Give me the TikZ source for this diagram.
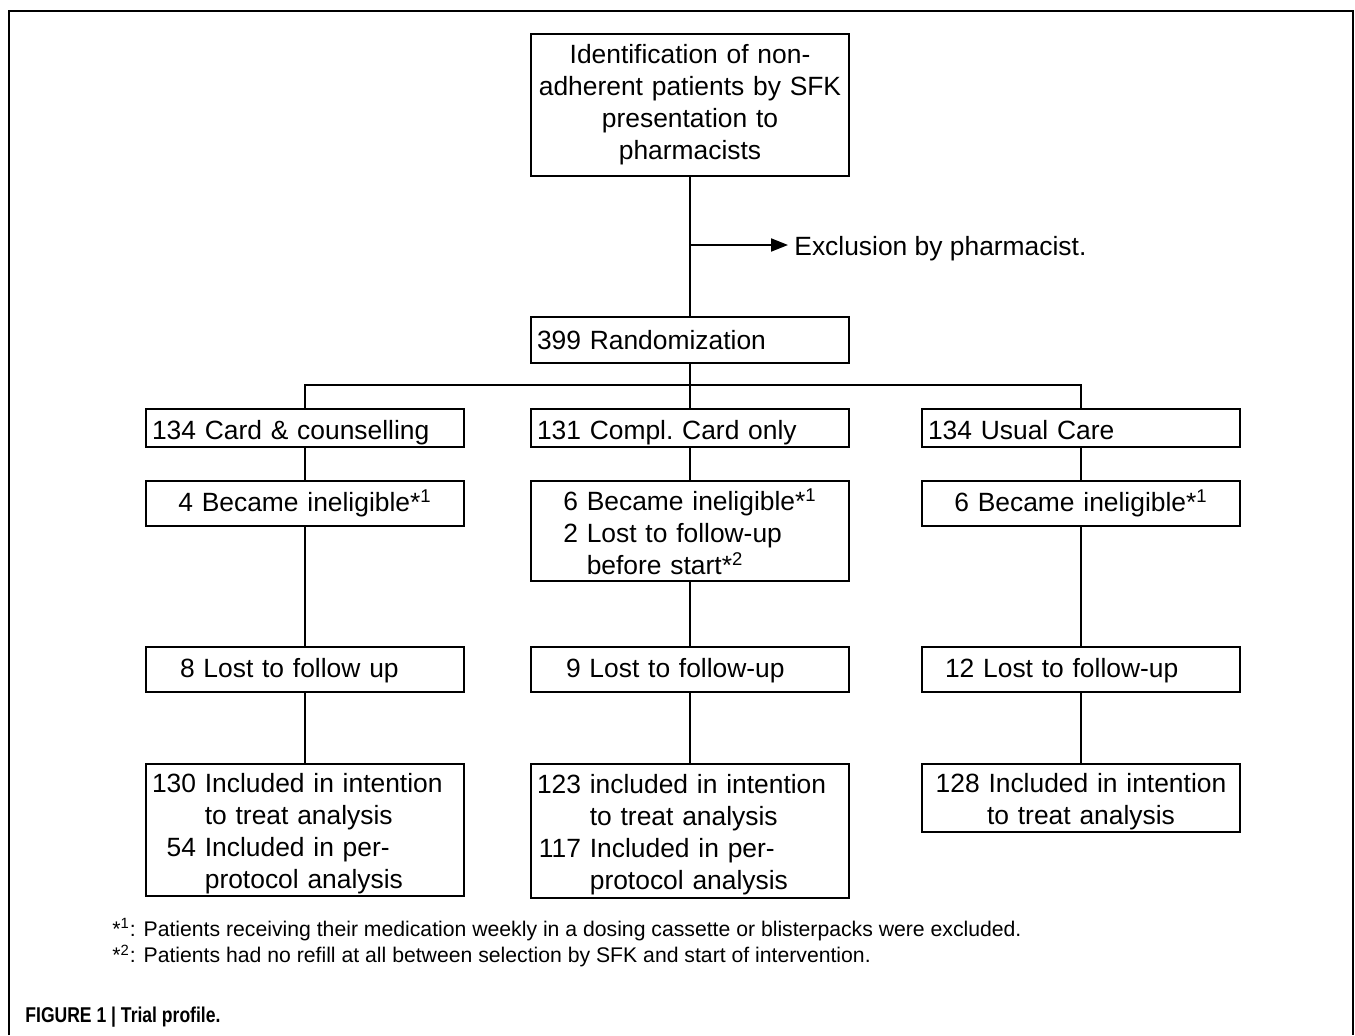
\documentclass[tikz,border=0pt]{standalone}
\usepackage{fontspec}
\setmainfont{Liberation Sans}
\usetikzlibrary{arrows.meta, positioning, calc}

\begin{document}
\begin{tikzpicture}[x=0.5pt,y=-0.5pt,
  boite/.style={draw, line width=1pt, anchor=north, minimum width=159pt, text width=153pt, inner xsep=3pt, inner ysep=1pt, align=left, font=\fontsize{13.2}{16}\selectfont},
  boitec/.style={boite, align=center},
  trait/.style={line width=1pt},
  note/.style={anchor=west, inner sep=0pt, font=\fontsize{10.6}{13}\selectfont}]
\useasboundingbox (0,0) rectangle (1355,1035);
% Cadre
\draw[trait] (9,1035) -- (9,11) -- (1353,11) -- (1353,1035);
% Selection et randomisation
\node[boitec, minimum height=71pt] (ident) at (690,33) {Identification of non-\\adherent patients by SFK\\presentation to\\pharmacists};
\node[boite, minimum height=23pt, text height=15pt, text depth=6pt] (rando) at (690,316) {399 Randomization};
\coordinate (excl) at (690,245);
\node[anchor=base west, inner sep=0pt, font=\fontsize{13.2}{16}\selectfont] (exclu) at (794,255.5) {Exclusion by pharmacist.};
\draw[trait] (ident) -- (rando);
\draw[trait, -{Triangle[length=8.5pt,width=6.5pt]}, shorten >=3pt] (excl) -- (excl -| exclu.west);
% Groupes
\node[boite, minimum height=19pt, text height=14pt, text depth=3pt] (cartec) at (305,408) {134 Card \& counselling};
\node[boite, minimum height=19pt, text height=14pt, text depth=3pt] (carte) at (690,408) {131 Compl.\ Card only};
\node[boite, minimum height=19pt, text height=14pt, text depth=3pt] (usuel) at (1081,408) {134 Usual Care};
\coordinate (split) at (690,385);
\draw[trait] (cartec.north) |- (split) -| (usuel.north);
\draw[trait] (rando) -- (carte);
% Ineligibles
\node[boitec, minimum height=22.5pt, text height=14pt, text depth=6.5pt] (inel1) at (305,480) {4 Became ineligible*\textsuperscript{1}};
\node[boitec, minimum height=49.5pt] (inel2) at (690,480) {\raisebox{-2.5pt}[\height][\depth]{\begin{tabular}{@{}r@{ }l@{}}6&Became ineligible*\textsuperscript{1}\\2&Lost to follow-up\\&before start*\textsuperscript{2}\end{tabular}}};
\node[boitec, minimum height=22.5pt, text height=14pt, text depth=6.5pt] (inel3) at (1081,480) {6 Became ineligible*\textsuperscript{1}};
% Perdus de vue
\node[boite, minimum height=22.5pt, text height=14pt, text depth=6.5pt] (perdu1) at (305,646) {\hspace*{14pt}8 Lost to follow up};
\node[boite, minimum height=22.5pt, text height=14pt, text depth=6.5pt] (perdu2) at (690,646) {\hspace*{14.5pt}9 Lost to follow-up};
\node[boite, minimum height=22.5pt, text height=14pt, text depth=6.5pt] (perdu3) at (1081,646) {\hspace*{8.5pt}12 Lost to follow-up};
% Analyses
\node[boite, minimum height=66pt] (anal1) at (305,763) {\raisebox{-2.2pt}[\height][\depth]{\begin{tabular}{@{}r@{ }l@{}}130&Included in intention\\&to treat analysis\\54&Included in per-\\&protocol analysis\end{tabular}}};
\node[boite, minimum height=67pt] (anal2) at (690,763) {\raisebox{-2.2pt}[\height][\depth]{\begin{tabular}{@{}r@{ }l@{}}123&included in intention\\&to treat analysis\\117&Included in per-\\&protocol analysis\end{tabular}}};
\node[boitec, minimum height=33.5pt] (anal3) at (1081,763) {\raisebox{-2pt}[\height][\depth]{\begin{tabular}{@{}c@{}}128 Included in intention\\to treat analysis\end{tabular}}};
\draw[trait] (cartec) -- (inel1) -- (perdu1) -- (anal1);
\draw[trait] (carte) -- (inel2) -- (perdu2) -- (anal2);
\draw[trait] (usuel) -- (inel3) -- (perdu3) -- (anal3);
% Notes
\node[note] (note1) at (112,930) {*\textsuperscript{1}: Patients receiving their medication weekly in a dosing cassette or blisterpacks were excluded.};
\node[note] (note2) at (112,956) {*\textsuperscript{2}: Patients had no refill at all between selection by SFK and start of intervention.};
\node[anchor=west, inner sep=0pt, font=\bfseries\fontsize{10.7}{12}\selectfont] (legende) at (25,1017) {\scalebox{0.82}[1]{FIGURE 1 | Trial profile.}};
\end{tikzpicture}
\end{document}
